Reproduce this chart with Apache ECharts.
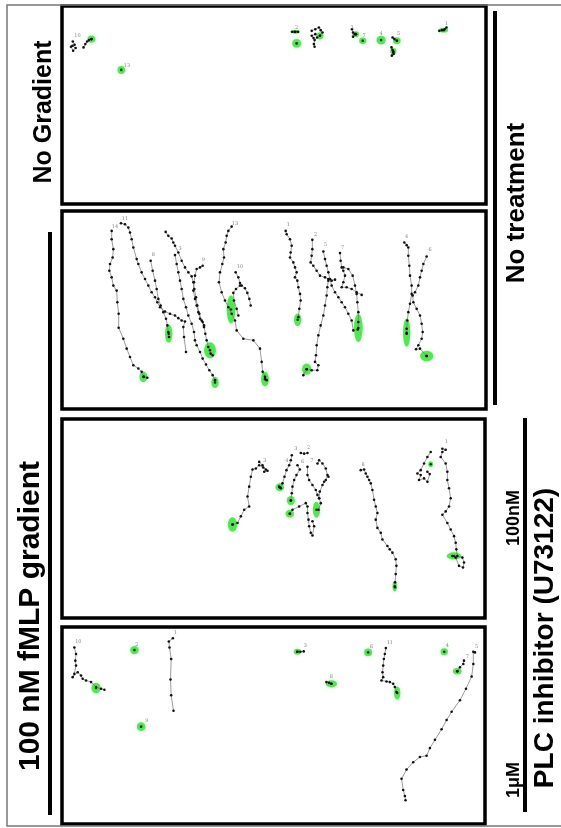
<!DOCTYPE html>
<html>
<head>
<meta charset="utf-8">
<script src="https://cdn.jsdelivr.net/npm/echarts@6/dist/echarts.min.js"></script>
<style>
  html, body { margin: 0; padding: 0; background: #fff; }
  #main { width: 561px; height: 828px; }
</style>
</head>
<body>
<div id="main"></div>
<script>
// cell tracks (panel pixel units, y downwards)
// panel 1: no gradient
const p1Tracks = [
  [[205,122],[210,132],[200,138],[206,150],[213,142],[204,135]],
  [[235,140],[240,130],[245,122],[250,118],[257,115]],
  [[815,93],[822,93],[832,93]],
  [[870,90],[880,85],[890,80],[895,88],[900,95],[893,105],[885,110],[878,118],[876,130],[878,138]],
  [[880,100],[870,105],[875,112]],
  [[982,85],[985,95],[990,100],[985,108],[993,100]],
  [[1095,110],[1100,115],[1107,120]],
  [[1092,140],[1095,148],[1097,155],[1093,165],[1098,160]],
  [[1225,90],[1232,88],[1240,85],[1245,80]]
];
const p1Cells = [
  [257,115,22,22],[340,208,21,24],[825,93,22,11],[828,128,25,26],[893,105,19,22],
  [993,100,17,17],[1012,120,20,20],[1063,118,26,26],[1107,120,21,21],[1097,152,17,20],[1237,88,25,14]
];
const p1Labels = [
  ['10',218,105],['13',356,195],['2',828,80],['3',982,80],['7',1016,104],['4',1063,100],['5',1112,100],['1',1245,68]
];

// panel 2: fMLP gradient, no treatment
const p2Tracks = [
  [[155,75],[155,100],[160,130],[158,155],[150,175],[148,195],[155,215],[160,240],[170,255],[172,290],[176,325],[176,367],[190,400],[200,430],[210,455],[220,480],[235,490],[245,500],[252,515],[262,518]],
  [[183,52],[195,55],[205,65],[210,80],[215,100],[220,125],[230,160],[235,175],[245,200],[255,220],[265,240],[275,260],[285,275],[292,290],[300,305],[315,318],[330,325],[345,330],[355,338],[365,345],[375,348],[370,365],[372,395],[378,440]],
  [[272,165],[278,195],[285,225],[290,250],[295,280],[302,300],[310,320],[318,340],[322,360],[325,380],[327,395]],
  [[317,78],[325,90],[335,98],[340,110],[345,120],[355,140],[365,165],[375,185],[385,200],[395,212],[400,230],[403,250],[408,275],[412,300],[418,325],[425,345],[432,360],[436,385],[440,405],[445,425],[452,445],[458,450]],
  [[345,148],[350,175],[355,200],[360,225],[365,250],[370,280],[378,305],[385,330],[395,355],[402,380],[405,405],[410,420],[420,440],[428,460],[438,478],[448,495],[458,510],[465,525]],
  [[428,180],[420,185],[410,190],[405,210],[402,230],[400,255],[405,280],[410,300],[415,320],[420,340],[428,350],[432,365]],
  [[515,62],[505,75],[500,90],[497,110],[490,130],[492,155],[487,175],[480,200],[477,230],[485,260],[495,285],[505,305],[515,325],[525,345],[530,375],[550,400],[580,405],[600,430],[605,470],[608,500],[615,515],[620,525]],
  [[527,200],[535,215],[540,232],[545,240],[555,248],[562,262],[568,280],[572,300]],
  [[540,240],[528,250],[520,262],[522,285],[530,310],[535,330]],
  [[677,75],[680,85],[690,100],[695,120],[692,140],[690,155],[700,170],[705,185],[710,200],[705,215],[712,225],[715,245],[720,265],[722,285],[718,310],[715,335]],
  [[757,102],[757,130],[755,150],[752,170],[760,180],[770,195],[780,210],[795,215],[805,220],[815,225],[825,222]],
  [[805,225],[802,245],[800,270],[795,300],[790,330],[782,360],[775,390],[770,420],[768,450],[765,470],[775,480],[772,495],[755,495],[740,492],[730,510]],
  [[790,137],[795,160],[800,180],[805,200],[810,220],[815,240],[825,260],[835,275],[845,290],[855,305],[865,325],[875,345],[880,375]],
  [[840,142],[842,165],[845,185],[850,195],[855,210],[850,230],[845,245],[860,245],[875,250],[890,260],[905,268]],
  [[850,185],[865,190],[878,210],[885,240],[890,265],[892,290],[895,320],[895,350],[893,372]],
  [[1033,110],[1040,118],[1045,125],[1045,150],[1048,180],[1050,210],[1055,240],[1055,265],[1050,295],[1045,320],[1042,345],[1040,370],[1040,385]],
  [[1100,152],[1090,175],[1085,195],[1080,215],[1075,240],[1065,260],[1058,270],[1060,290],[1070,310],[1080,330],[1085,355],[1088,380],[1085,400],[1075,420],[1068,432],[1080,430],[1100,452]]
];
const p2Cells = [
  [250,515,24,32],[326,385,22,55],[450,435,36,48],[465,532,22,34],[513,312,26,85],[615,522,24,44],
  [713,343,22,38],[740,492,28,34],[895,368,26,85],[1040,382,22,85],[1100,452,40,32]
];
const p2Labels = [
  ['11',195,37],['14',165,62],['8',280,148],['3',360,128],['9',430,163],['13',525,52],['10',540,182],
  ['1',685,57],['2',767,85],['5',797,118],['7',848,125],['4',1040,92],['6',1110,133]
];

// panel 3: fMLP gradient, 100nM U73122
const p3Tracks = [
  [[600,155],[610,165],[620,178],[615,185],[625,182],[612,172],[600,165],[590,175],[580,178],[575,200],[570,230],[565,260],[570,290],[555,300],[545,320],[535,340],[520,345]],
  [[725,128],[735,130],[745,128]],
  [[698,135],[695,150],[690,165],[682,180],[676,200],[670,220],[665,235],[660,230]],
  [[715,165],[722,178],[712,195],[705,210],[700,230],[698,250],[695,272]],
  [[692,312],[700,300],[720,290],[740,280],[745,290],[745,310],[748,330],[750,350],[755,370],[760,378],[765,350],[760,335]],
  [[745,170],[745,195],[750,210],[760,225],[770,240],[775,255],[780,265],[785,280],[778,300]],
  [[775,160],[780,150],[790,160],[800,175],[805,195],[808,200],[800,210],[795,215],[790,225],[782,245],[780,265]],
  [[905,180],[915,178],[920,190],[925,200],[930,210],[935,220],[940,240],[945,270],[950,290],[955,310],[950,330],[955,355],[965,370],[970,390],[985,410],[992,420],[1000,430],[1010,450],[1012,470],[1010,495],[1008,520],[1008,535]],
  [[1150,115],[1160,118],[1150,125],[1145,140],[1160,160],[1165,185],[1165,210],[1170,235],[1175,265],[1170,290],[1160,305],[1150,315],[1165,340],[1175,360],[1185,380],[1190,400],[1192,420],[1195,440],[1210,445],[1215,460],[1212,475],[1200,470],[1190,445],[1180,440]],
  [[1115,125],[1105,140],[1095,160],[1085,180],[1075,190],[1085,195],[1080,210],[1095,205],[1105,215],[1112,192],[1105,185]]
];
const p3Cells = [
  [520,345,28,44],[662,232,26,24],[695,272,24,28],[692,312,26,24],[772,300,22,48],
  [1007,532,13,32],[1185,440,44,22],[1115,162,14,18]
];
const p3Labels = [
  ['3',617,152],['3',710,115],['2',748,113],['4',683,150],['6',730,153],['7',758,150],['8',912,162],['1',1162,95]
];

// panel 4: fMLP gradient, 1uM U73122
const p4Tracks = [
  [[45,80],[50,100],[48,120],[50,135],[45,160],[40,170],[55,155],[65,165],[70,175],[80,180],[95,185],[110,200],[125,205],[135,208]],
  [[340,52],[328,62],[330,80],[335,115],[333,177],[335,225],[342,272]],
  [[713,93],[722,93],[732,92]],
  [[800,185],[808,187],[815,190]],
  [[978,82],[975,100],[972,115],[970,135],[968,155],[970,170],[965,180],[980,183],[990,185],[1000,190],[1005,200],[1010,215]],
  [[1240,93],[1245,95],[1240,130],[1235,168],[1218,205],[1200,240],[1175,275],[1160,300],[1145,328],[1125,360],[1110,385],[1100,408],[1080,412],[1060,428],[1040,450],[1025,478],[1030,512],[1035,530],[1037,543]],
  [[1212,120],[1210,130],[1200,140],[1192,152]]
];
const p4Cells = [
  [110,203,28,32],[225,88,26,25],[245,320,26,27],[713,93,22,18],[815,190,34,22],
  [925,95,24,23],[1012,218,19,40],[1153,93,22,21],[1192,152,26,20]
];
const p4Labels = [
  ['10',57,64],['2',232,73],['1',348,36],['9',262,303],['3',737,75],['8',815,170],
  ['6',935,78],['11',990,67],['4',1162,75],['5',1250,77],['7',1222,107]
];

const panels = [
  { grid: {left: 62, top: 6, width: 424, height: 198}, xr: [175, 1355], yr: [15, 613], tracks: p1Tracks, cells: p1Cells, labels: p1Labels },
  { grid: {left: 62, top: 211, width: 424, height: 198}, xr: [6, 1278], yr: [15, 612], tracks: p2Tracks, cells: p2Cells, labels: p2Labels },
  { grid: {left: 62, top: 419, width: 423, height: 199}, xr: [8, 1278], yr: [25, 628], tracks: p3Tracks, cells: p3Cells, labels: p3Labels },
  { grid: {left: 62, top: 627, width: 423, height: 197}, xr: [8, 1275], yr: [18, 615], tracks: p4Tracks, cells: p4Cells, labels: p4Labels }
];

const grids = [], xAxes = [], yAxes = [], series = [];
panels.forEach((p, i) => {
  grids.push(Object.assign({ show: true, borderColor: '#000', borderWidth: 3.5, backgroundColor: '#fff' }, p.grid));
  xAxes.push({ gridIndex: i, type: 'value', min: p.xr[0], max: p.xr[1], show: false });
  yAxes.push({ gridIndex: i, type: 'value', min: p.yr[0], max: p.yr[1], inverse: true, show: false });
  const sx = p.grid.width / (p.xr[1] - p.xr[0]);
  const sy = p.grid.height / (p.yr[1] - p.yr[0]);

  series.push({
    type: 'scatter', xAxisIndex: i, yAxisIndex: i, z: 2, silent: true,
    data: p.cells,
    symbol: 'circle',
    symbolSize: v => [v[2] * sx, v[3] * sy],
    itemStyle: { color: '#33e033', shadowColor: 'rgba(140,235,140,0.6)', shadowBlur: 4 }
  });
  p.tracks.forEach(t => {
    series.push({
      type: 'line', xAxisIndex: i, yAxisIndex: i, z: 3, silent: true,
      data: t, symbol: 'circle', symbolSize: 2.6, showSymbol: true,
      lineStyle: { color: '#7a7a7a', width: 0.75 },
      itemStyle: { color: '#111' }
    });
  });
  series.push({
    type: 'scatter', xAxisIndex: i, yAxisIndex: i, z: 4, silent: true,
    data: p.cells.map(c => [c[0], c[1]]),
    symbolSize: 2.6, itemStyle: { color: '#000' }
  });
  series.push({
    type: 'scatter', xAxisIndex: i, yAxisIndex: i, z: 4, silent: true,
    data: p.labels.map(l => ({ name: l[0], value: [l[1], l[2]] })),
    symbolSize: 0,
    label: { show: true, position: 'inside', formatter: '{b}', fontSize: 5, color: '#666', fontFamily: 'DejaVu Serif' }
  });
});

const bold = size => 'bold ' + size + 'px "Liberation Sans", Arial, sans-serif';
const vText = (text, x, y, size) => ({
  type: 'text', x: x, y: y, rotation: Math.PI / 2, z: 10,
  style: { text: text, font: bold(size), fill: '#000', align: 'center', verticalAlign: 'middle' }
});
const vLine = (x, y1, y2) => ({
  type: 'line', z: 10, shape: { x1: x, y1: y1, x2: x, y2: y2 },
  style: { stroke: '#000', lineWidth: 4 }
});

const chart = echarts.init(document.getElementById('main'));
chart.setOption({
  animation: false,
  backgroundColor: '#fff',
  grid: grids,
  xAxis: xAxes,
  yAxis: yAxes,
  series: series,
  graphic: [
    { type: 'rect', z: 0, shape: { x: 7, y: 5, width: 560, height: 821 }, style: { fill: 'none', stroke: '#777', lineWidth: 1.5 } },
    vLine(50, 232, 815),
    vLine(495, 11, 405),
    vLine(525, 418, 812),
    vText('No Gradient', 44, 112, 25),
    vText('No treatment', 517, 203, 26),
    vText('100 nM fMLP gradient', 31, 616, 30),
    vText('100nM', 514, 518, 18),
    vText('1μM', 514, 780, 18),
    vText('PLC inhibitor (U73122)', 545, 638, 28)
  ]
});
</script>
</body>
</html>
